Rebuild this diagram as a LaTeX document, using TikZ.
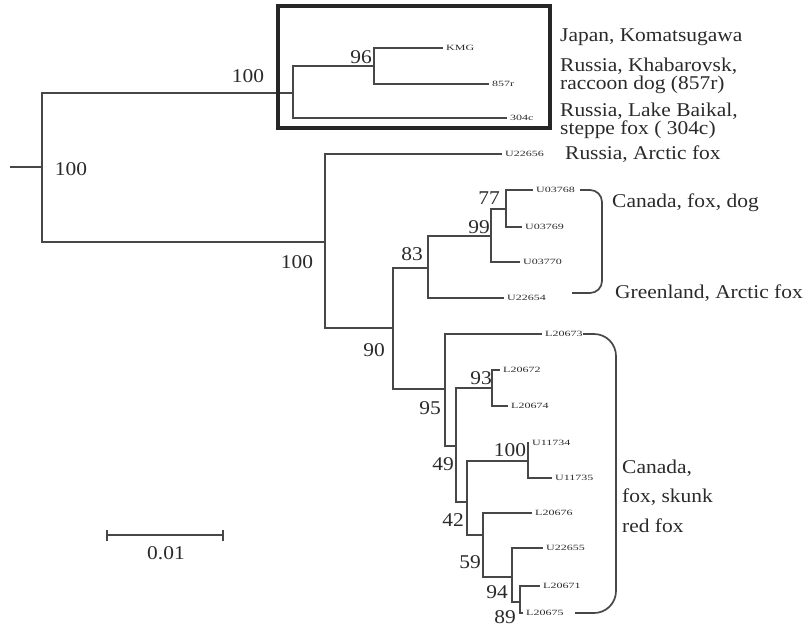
\documentclass[tikz,border=0pt]{standalone}
\usepackage{fontspec}
\setmainfont{Liberation Serif}
\newfontfamily\labfont[FakeStretch=1.1]{Liberation Serif}
\newfontfamily\tipfont[FakeStretch=1.5]{Liberation Serif}
\usepackage{tikz}
\usetikzlibrary{arrows.meta, calc}
\usepackage{xcolor}
\definecolor{branchgray}{HTML}{474747}
\definecolor{inkgray}{HTML}{2A2A2A}
\tikzset{
    branchline/.style={
        draw=branchgray, line width=1.7pt
    },
    leaf/.style={
        anchor=west, inner xsep=3pt, inner ysep=0pt,
        font=\tipfont\fontsize{8}{8}\selectfont, text=inkgray
    },
    support/.style={
        inner sep=0pt, font=\labfont\fontsize{19.5}{20}\selectfont, text=inkgray
    },
    placename/.style={
        anchor=west, align=left, inner sep=0pt,
        font=\labfont\fontsize{19.5}{15}\selectfont, text=inkgray
    },
    cladebox/.style={
        draw=black!85, line width=3.2pt
    },
    bracket/.style={
        draw=branchgray, line width=1.7pt
    },
    scalebar/.style={
        draw=branchgray, line width=1.7pt, {Bar[width=11pt]}-{Bar[width=11pt]}
    }
}

\begin{document}
\begin{tikzpicture}[x=1pt, y=-1pt]

    \useasboundingbox (0,0) rectangle (808,629);

    % ── Internal nodes ──
    \coordinate (stub)  at (10,167);
    \coordinate (root)  at (42,167);
    \coordinate (nA)    at (293,93);
    \coordinate (n96)   at (374,66);
    \coordinate (nB)    at (325,242);
    \coordinate (n90)   at (393,328);
    \coordinate (n83)   at (428,268);
    \coordinate (n99)   at (491,236);
    \coordinate (n77)   at (506,209);
    \coordinate (n95)   at (445,389);
    \coordinate (n49)   at (456,446);
    \coordinate (n93)   at (492,388);
    \coordinate (n42)   at (467,502);
    \coordinate (n100)  at (528,461);
    \coordinate (n59)   at (483,535);
    \coordinate (n94)   at (512,577);
    \coordinate (n89)   at (520,602);

    % ── Leaves ──
    \node[leaf] (kmg)    at (443,48)  {KMG};
    \node[leaf] (t857r)  at (489,84)  {857r};
    \node[leaf] (t304c)  at (507,118) {304c};
    \node[leaf] (u22656) at (502,154) {U22656};
    \node[leaf] (u03768) at (533,190) {U03768};
    \node[leaf] (u03769) at (522,227) {U03769};
    \node[leaf] (u03770) at (520,262) {U03770};
    \node[leaf] (u22654) at (504,298) {U22654};
    \node[leaf] (l20673) at (542,334) {L20673};
    \node[leaf] (l20672) at (500,370) {L20672};
    \node[leaf] (l20674) at (508,406) {L20674};
    \node[leaf] (u11734) at (529,443) {U11734};
    \node[leaf] (u11735) at (552,478) {U11735};
    \node[leaf] (l20676) at (532,513) {L20676};
    \node[leaf] (u22655) at (543,548) {U22655};
    \node[leaf] (l20671) at (540,586) {L20671};
    \node[leaf] (l20675) at (523,613) {L20675};

    % ── Branches ──
    \draw[branchline] (stub) -- (root);
    \draw[branchline] (root) |- (nA);
    \draw[branchline] (root) |- (nB);
    \draw[branchline] (nA)   |- (n96);
    \draw[branchline] (nA)   |- (t304c.west);
    \draw[branchline] (n96)  |- (kmg.west);
    \draw[branchline] (n96)  |- (t857r.west);
    \draw[branchline] (nB)   |- (u22656.west);
    \draw[branchline] (nB)   |- (n90);
    \draw[branchline] (n90)  |- (n83);
    \draw[branchline] (n90)  |- (n95);
    \draw[branchline] (n83)  |- (n99);
    \draw[branchline] (n83)  |- (u22654.west);
    \draw[branchline] (n99)  |- (n77);
    \draw[branchline] (n99)  |- (u03770.west);
    \draw[branchline] (n77)  |- (u03768.west);
    \draw[branchline] (n77)  |- (u03769.west);
    \draw[branchline] (n95)  |- (l20673.west);
    \draw[branchline] (n95)  |- (n49);
    \draw[branchline] (n49)  |- (n93);
    \draw[branchline] (n49)  |- (n42);
    \draw[branchline] (n93)  |- (l20672.west);
    \draw[branchline] (n93)  |- (l20674.west);
    \draw[branchline] (n42)  |- (n100);
    \draw[branchline] (n42)  |- (n59);
    \draw[branchline] (n100) |- (u11734.west);
    \draw[branchline] (n100) |- (u11735.west);
    \draw[branchline] (n59)  |- (l20676.west);
    \draw[branchline] (n59)  |- (n94);
    \draw[branchline] (n94)  |- (u22655.west);
    \draw[branchline] (n94)  |- (n89);
    \draw[branchline] (n89)  |- (l20671.west);
    \draw[branchline] (n89)  |- (l20675.west);

    % ── Bootstrap values ──
    \node[support] (bRoot) at (71,169)  {100};
    \node[support] (bA)    at (248,76)  {100};
    \node[support] (b96)   at (361,57)  {96};
    \node[support] (bB)    at (297,262) {100};
    \node[support] (b90)   at (374,350) {90};
    \node[support] (b83)   at (412,254) {83};
    \node[support] (b99)   at (479,227) {99};
    \node[support] (b77)   at (489,198) {77};
    \node[support] (b95)   at (430,408) {95};
    \node[support] (b93)   at (481,378) {93};
    \node[support] (b49)   at (443,464) {49};
    \node[support] (b100)  at (510,450) {100};
    \node[support] (b42)   at (453,520) {42};
    \node[support] (b59)   at (470,562) {59};
    \node[support] (b94)   at (497,592) {94};
    \node[support] (b89)   at (505,617) {89};

    % ── Boxed clade and brackets ──
    \draw[cladebox] (278,6) rectangle (550,128);
    \draw[bracket, rounded corners=12pt] (580,190) -| (602,293) -- (572,293);
    \draw[bracket, rounded corners=22pt] (583,334) -| (616,613) -- (575,613);

    % ── Origins ──
    \node[placename] (japan)     at (560,37)  {Japan, Komatsugawa};
    \node[placename] (khabarov)  at (560,76)  {Russia, Khabarovsk,\\raccoon dog (857r)};
    \node[placename] (baikal)    at (560,121) {Russia, Lake Baikal,\\steppe fox ( 304c)};
    \node[placename] (arctic)    at (565,154) {Russia, Arctic fox};
    \node[placename] (canadadog) at (612,203) {Canada, fox, dog};
    \node[placename] (greenland) at (615,293) {Greenland, Arctic fox};
    \node[placename, font=\labfont\fontsize{19.5}{29.5}\selectfont]
        (canadared) at (622,496) {Canada,\\fox, skunk\\red fox};

    % ── Scale ──
    \coordinate (scaleL) at (106,535);
    \coordinate (scaleR) at (224,535);
    \draw[scalebar] (scaleL) -- (scaleR);
    \node[support] (scaletext) at (166,553) {0.01};

\end{tikzpicture}
\end{document}
